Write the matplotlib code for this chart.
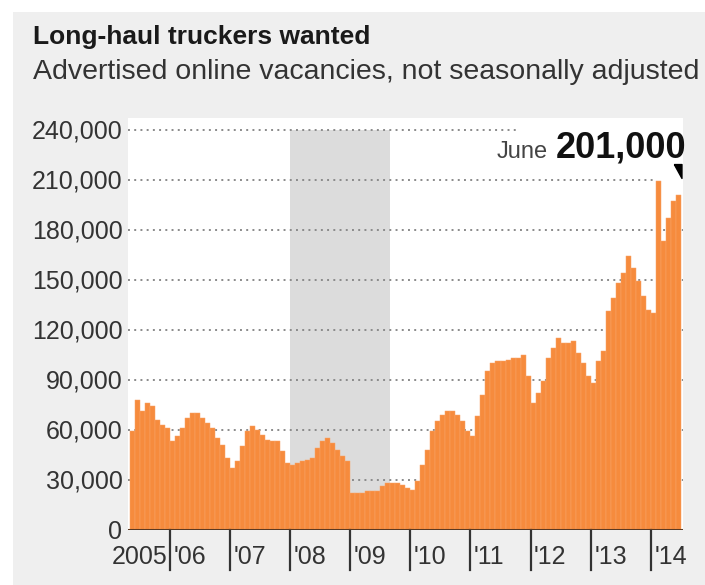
import numpy as np
import pandas as pd
import matplotlib.pyplot as plt
import matplotlib.patches as mpatches
import matplotlib.transforms as mtransforms

plt.rcParams['font.family'] = ['Liberation Sans', 'DejaVu Sans']

# Advertised online vacancies, thousands (monthly, May 2005 - June 2014)
vac_2005 = [59, 78, 71, 76, 74, 66, 63, 61]
vac_2006 = [53, 56, 61, 67, 70, 70, 67, 64, 61, 55, 51, 43]
vac_2007 = [37, 41, 50, 59, 62, 60, 57, 54, 53, 53, 47, 40]
vac_2008 = [39, 40, 41, 42, 43, 49, 53, 55, 52, 48, 44, 41]
vac_2009 = [22, 22, 22, 23, 23, 23, 26, 28, 28, 28, 27, 25]
vac_2010 = [24, 29, 39, 48, 59, 65, 69, 71, 71, 69, 65, 59]
vac_2011 = [56, 68, 81, 95, 100, 101, 101, 102, 103, 103, 105, 92]
vac_2012 = [76, 82, 89, 103, 109, 115, 112, 112, 113, 106, 100, 92]
vac_2013 = [88, 101, 107, 131, 139, 148, 154, 164, 157, 149, 140, 132]
vac_2014 = [130, 209, 173, 187, 197, 201]

year_labels = ['2005', "'06", "'07", "'08", "'09", "'10", "'11", "'12", "'13", "'14"]
yticks = [0, 30000, 60000, 90000, 120000, 150000, 180000, 210000, 240000]
recession = ('2008-01', '2009-08')

by_year = [vac_2005, vac_2006, vac_2007, vac_2008, vac_2009,
           vac_2010, vac_2011, vac_2012, vac_2013, vac_2014]
vacancies = np.array(sum(by_year, [])) * 1000
months = pd.period_range('2005-05', periods=len(vacancies), freq='M')
x = np.arange(len(vacancies))
year_starts = np.cumsum([0] + [len(v) for v in by_year[:-1]])

W, H = 705, 585
fig = plt.figure(figsize=(W / 100, H / 100), dpi=100, facecolor='white')
fig.patches.append(mpatches.Rectangle((13 / W, 0), 1, 1 - 12 / H, transform=fig.transFigure,
                                      facecolor='#efefef', edgecolor='none', zorder=-10))

ax = fig.add_axes([128 / W, (H - 529.5) / H, 555 / W, (529.5 - 118) / H])
ax.set_facecolor('white')
ax.set_xlim(-0.9, len(x) - 0.05)
ax.set_ylim(0, 246900)

# recession shading
rs = months.get_loc(pd.Period(recession[0], 'M'))
re = months.get_loc(pd.Period(recession[1], 'M'))
ax.fill_between([rs - 0.5, re + 0.5], 0, 240000, color='#dcdcdc', lw=0, zorder=0)

# dotted gridlines
for v in yticks[1:]:
    if v == yticks[-1]:
        xmax = (520 - 128) / 555
    elif v == yticks[-2]:
        xmax = (656 - 128) / 555
    else:
        xmax = 1
    ax.axhline(v, xmax=xmax, color='#8a8a8a', lw=1.4, ls=(0, (1, 2.2)), zorder=1)

ax.bar(x, vacancies, width=1.0, color='#f68b3d', edgecolor='#f9a468', lw=0.35, zorder=2)
ax.axhline(0, color='#5b3a22', lw=2.2, zorder=3)

for s in ax.spines.values():
    s.set_visible(False)
ax.set_xticks([])
ax.set_yticks(yticks)
ax.set_yticklabels([f'{v:,}' for v in yticks])
ax.tick_params(axis='y', length=0, pad=4, labelsize=18, labelcolor='#333333')

# year ticks and labels below the axis
trans = mtransforms.blended_transform_factory(ax.transData, ax.transAxes)
tick_len = 40 / (529.5 - 118)
label_y = -(557 - 529.5) / (529.5 - 118)
for i, (s, lab) in enumerate(zip(year_starts, year_labels)):
    if i > 0:
        ax.plot([s - 0.5, s - 0.5], [0, -tick_len], color='#333333', lw=1.6,
                transform=trans, clip_on=False)
    if i == 0:
        ax.text(year_starts[1] - 1.0, label_y, lab, transform=trans, ha='right',
                va='center', fontsize=18, color='#333333')
    else:
        ax.text(s + 0.2, label_y, lab, transform=trans, ha='left',
                va='center', fontsize=18, color='#333333')

# latest value callout
last = vacancies[-1]
ax.text((686 - 128) / 555, (529.5 - 158) / (529.5 - 118), f'{last:,}', transform=ax.transAxes,
        ha='right', va='baseline', fontsize=26, fontweight='bold', color='#111111')
ax.text((548 - 128) / 555, (529.5 - 158) / (529.5 - 118), months[-1].strftime('%B'),
        transform=ax.transAxes, ha='right', va='baseline', fontsize=17, color='#444444')
wedge = [(-0.6, 1), (0.5, 1), (0.5, -1), (-0.6, 1)]
ax.plot(x[-1] - 0.1, last + 14000, marker=wedge, markersize=10, color='black',
        clip_on=False, zorder=4)

fig.text(33 / W, 1 - 37 / H, 'Long-haul truckers wanted', ha='left', va='center',
         fontsize=19, fontweight='bold', color='#1a1a1a')
fig.text(33 / W, 1 - 72 / H, 'Advertised online vacancies, not seasonally adjusted',
         ha='left', va='center', fontsize=20.5, color='#333333')

fig.savefig('out.png', dpi=100, facecolor=fig.get_facecolor())
